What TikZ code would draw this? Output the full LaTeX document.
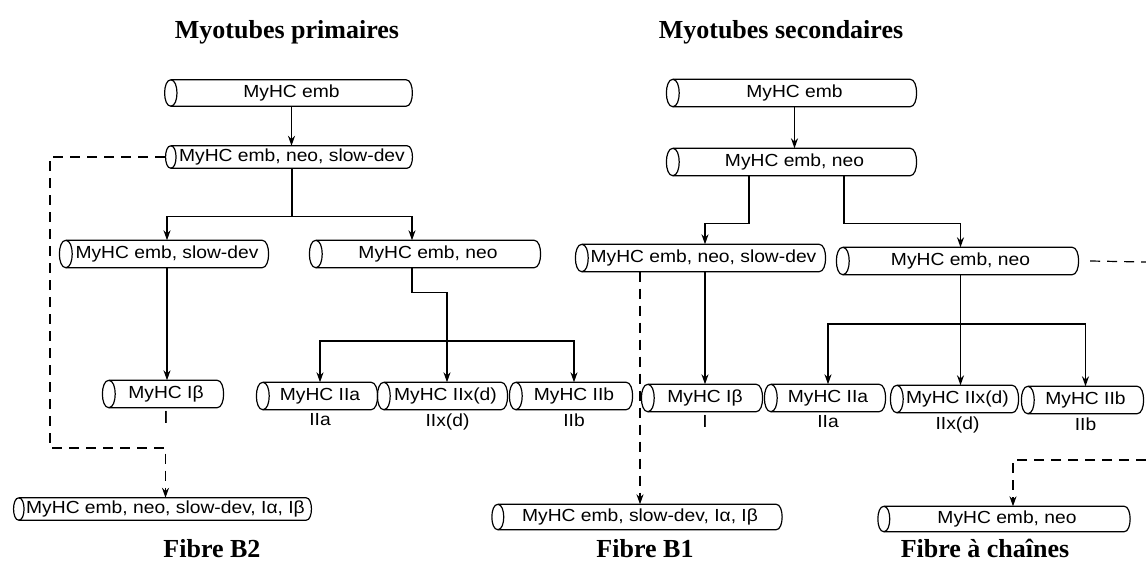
\documentclass[tikz,border=0pt]{standalone}
\usepackage{fontspec}
\setmainfont{Liberation Serif}
\newfontfamily\nodefont[FakeStretch=1.1]{Liberation Sans}
\usetikzlibrary{arrows.meta}
\begin{document}
\begin{tikzpicture}[x=1pt,y=-1pt,
  box/.style={inner sep=0pt, minimum height=27pt, font=\nodefont\fontsize{17.5}{20}\selectfont},
  outl/.style={line width=1.2pt},
  arr/.style={line width=1.2pt, -{Stealth[length=10pt,width=7pt]}},
  dline/.style={line width=1.2pt, dash pattern=on 10pt off 7pt},
  darr/.style={dline, -{Stealth[length=10pt,width=7pt]}},
  title/.style={font=\bfseries\fontsize{26}{30}\selectfont, anchor=base, inner sep=0pt},
  sub/.style={font=\nodefont\fontsize{17.5}{20}\selectfont, anchor=north, inner sep=0pt, yshift=-4pt}]
\fill[white] (0,0) rectangle (1146,576);
\useasboundingbox (0,0) rectangle (1146,576);

% titles
\node[title] (t1) at (287,38) {Myotubes primaires};
\node[title] (t2) at (781,38) {Myotubes secondaires};
\node[title] (b1) at (212,557) {Fibre B2};
\node[title] (b2) at (645,557) {Fibre B1};
\node[title] (b3) at (985,557) {Fibre à chaînes};

% primary myotubes
\node[box, minimum width=241pt, minimum height=26pt] (p1) at (291.5,93) {MyHC emb};
\node[box, minimum width=242pt, minimum height=22pt] (p2) at (292,157) {MyHC emb, neo, slow-dev};
\node[box, minimum width=202pt] (p3) at (167,254) {MyHC emb, slow-dev};
\node[box, minimum width=224pt] (p4) at (428,254) {MyHC emb, neo};
\node[box, minimum width=114pt] (p5) at (166,394) {MyHC Iβ};
\node[box, minimum width=114pt] (p6) at (320,396) {MyHC IIa};
\node[box, minimum width=123pt] (p7) at (445.5,396) {MyHC IIx(d)};
\node[box, minimum width=116pt] (p8) at (574,396) {MyHC IIb};
\node[box, minimum width=293pt, minimum height=22pt] (p9) at (165.5,509) {MyHC emb, neo, slow-dev, Iα, Iβ};

% secondary myotubes
\node[box, minimum width=243pt] (s1) at (794.5,93) {MyHC emb};
\node[box, minimum width=243pt] (s2) at (794.5,162) {MyHC emb, neo};
\node[box, minimum width=243pt] (s3) at (703.5,258) {MyHC emb, neo, slow-dev};
\node[box, minimum width=235pt] (s4) at (960.5,261) {MyHC emb, neo};
\node[box, minimum width=114pt] (s5) at (705,398) {MyHC Iβ};
\node[box, minimum width=114pt] (s6) at (828,398) {MyHC IIa};
\node[box, minimum width=121pt] (s7) at (957.5,399) {MyHC IIx(d)};
\node[box, minimum width=115pt] (s8) at (1085.5,400) {MyHC IIb};
\node[box, minimum width=284pt, minimum height=25pt] (s9) at (640,517) {MyHC emb, slow-dev, Iα, Iβ};
\node[box, minimum width=246pt, minimum height=25pt] (s10) at (1007,519) {MyHC emb, neo};

% cylinder outlines
\foreach \n in {p1,p2,p3,p4,p5,p6,p7,p8,p9,s1,s2,s3,s4,s5,s6,s7,s8,s9,s10}{
  \draw[outl] (\n.north west) -- ([xshift=-6pt]\n.north east)
     to[out=0,in=0,looseness=0.8] ([xshift=-6pt]\n.south east) -- (\n.south west);
  \draw[outl] (\n.north west) to[out=180,in=180,looseness=0.8] (\n.south west)
     to[out=0,in=0,looseness=0.8] (\n.north west);
}

% fibre type labels
\node[sub] (q5) at (p5.south) {I};
\node[sub] (q6) at (p6.south) {IIa};
\node[sub] (q7) at ([xshift=2pt]p7.south) {IIx(d)};
\node[sub] (q8) at (p8.south) {IIb};
\node[sub] (r5) at (s5.south) {I};
\node[sub] (r6) at (s6.south) {IIa};
\node[sub] (r7) at (s7.south) {IIx(d)};
\node[sub] (r8) at (s8.south) {IIb};

% primary connectors
\draw[arr] (p1.south) -- (p1.south |- p2.north);
\draw[arr] (p2.south) -- ++(0,48) -| (p3.north);
\draw[arr] (p2.south) -- ++(0,48) -| ([xshift=-16pt]p4.north);
\draw[arr] (p3.south) -- (p3.south |- p5.north);
\draw[arr] ([xshift=-16pt]p4.south) -- ++(0,24.5) -| ([xshift=1.5pt]p7.north);
\coordinate (lbar) at (0,341);
\draw[arr] ([xshift=1.5pt]p7.north |- lbar) -| (p6.north);
\draw[arr] ([xshift=1.5pt]p7.north |- lbar) -| (p8.north);
\coordinate (ld) at (50,448);
\draw[darr] ([xshift=-6pt]p2.west) -| (ld) -| (p9.north);

% secondary connectors
\draw[arr] (s1.south) -- (s1.south |- s2.north);
\draw[arr] ([xshift=-45.5pt]s2.south) -- ++(0,47.5) -| (s3.north -| s5.north);
\draw[arr] ([xshift=49.5pt]s2.south) -- ++(0,47.5) -| (s4.north);
\draw[arr] (s5.north |- s3.south) -- (s5.north);
\draw[arr] (s4.south) -- (s4.south |- s7.north);
\coordinate (rbar) at (0,324);
\draw[arr] (s4.south |- rbar) -| (s6.north);
\draw[arr] (s4.south |- rbar) -| (s8.north);
\draw[darr] (s9.north |- s3.south) -- (s9.north);
\coordinate (re1) at (1146,262);
\coordinate (re2) at (1146,460);
\draw[dline] ([xshift=12pt]s4.east) -- (re1);
\draw[darr] (re2) -| ([xshift=6pt]s10.north);
\end{tikzpicture}
\end{document}
